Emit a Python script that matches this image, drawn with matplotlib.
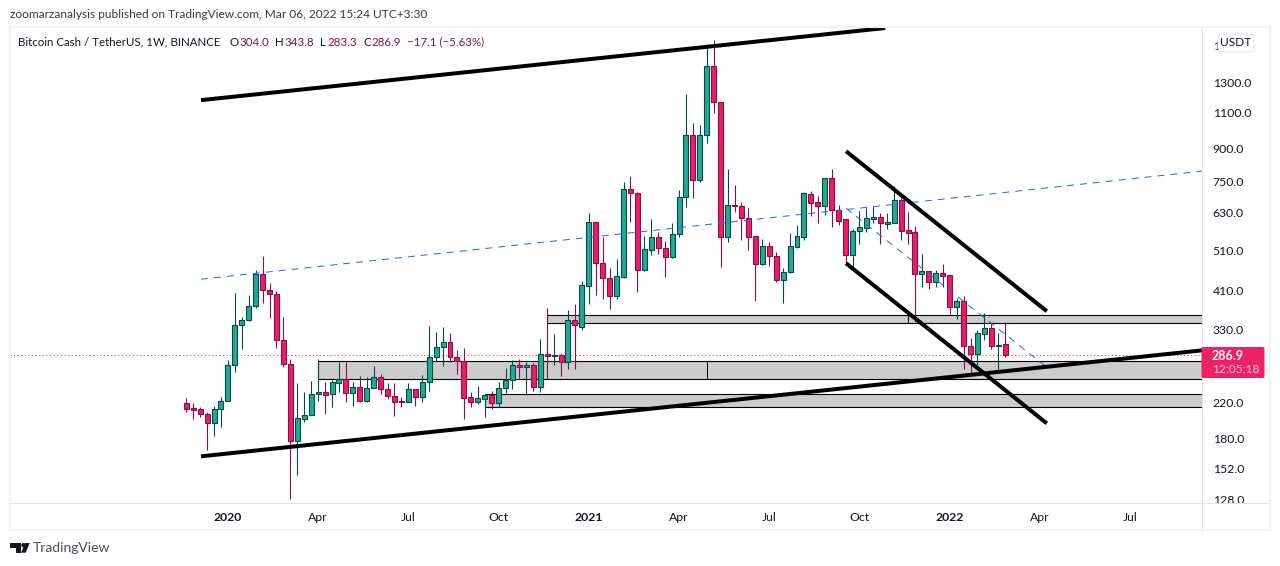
"""BCHUSDT weekly chart with trend channels, redrawn in the TradingView look."""
import matplotlib
matplotlib.use('Agg')
import matplotlib.pyplot as plt
import matplotlib.transforms as mtransforms
import pandas as pd
from matplotlib.patches import FancyBboxPatch, Polygon, Rectangle, Circle

plt.rcParams['font.family'] = ['Lato']

# weekly bars, first one is the week of 2019-11-25
WEEK0 = '2019-11-25'
opens = [219.1, 213.1, 211.9, 206.1, 196.0, 211.9, 221.6, 270.7, 338.2, 347.7,
         375.9, 449.1, 410.8, 401.8, 311.0, 272.2, 177.3, 200.5, 204.9, 230.4,
         232.9, 230.4, 244.9, 250.5, 231.6, 239.5, 221.6, 238.2, 253.2, 236.9,
         227.8, 221.6, 220.3, 236.9, 226.5, 246.3, 283.0, 299.2, 307.6, 283.0,
         276.8, 226.5, 220.3, 224.0, 229.0, 219.1, 238.2, 249.0, 270.7, 267.7,
         270.7, 239.5, 287.7, 284.6, 286.1, 275.2, 347.7, 334.5, 420.1, 599.8,
         477.4, 439.3, 397.4, 441.8, 720.7, 704.8, 459.2, 513.2, 551.7, 519.0,
         493.7, 561.0, 689.3, 973.0, 757.6, 973.0, 1429.0, 1169.0, 551.7, 659.2,
         655.6, 613.1, 554.8, 474.7, 524.8, 496.4, 434.3, 454.2, 521.9, 551.7,
         700.9, 670.3, 655.6, 766.2, 641.0, 609.8, 499.1, 570.4, 580.2, 609.8,
         616.6, 593.2, 596.5, 677.8, 573.6, 567.3, 449.1, 456.7, 429.5, 451.6,
         446.7, 373.8, 386.4, 300.9, 287.7, 321.7, 332.7, 300.9, 304.0]
highs = [225.3, 219.1, 214.3, 208.4, 215.5, 226.5, 278.3, 404.0, 353.7, 399.6,
         459.2, 496.4, 427.1, 408.5, 353.7, 279.9, 244.9, 232.9, 247.6, 279.9,
         246.3, 249.0, 275.2, 275.2, 246.3, 254.6, 253.2, 269.2, 257.4, 244.9,
         244.9, 226.5, 244.9, 236.9, 256.0, 336.4, 325.3, 334.5, 323.5, 294.2,
         297.6, 232.9, 240.9, 229.0, 234.2, 246.3, 266.2, 278.3, 279.9, 275.2,
         273.7, 312.9, 371.7, 321.7, 289.3, 367.6, 380.1, 431.9, 630.4, 603.2,
         551.7, 464.3, 488.2, 749.3, 774.7, 708.7, 554.8, 609.8, 567.3, 539.6,
         596.5, 716.6, 1222.0, 1041.0, 1029.0, 1615.0, 1651.0, 1169.0, 806.0, 736.9,
         670.3, 648.3, 554.8, 545.7, 536.6, 507.6, 464.3, 564.1, 589.9, 708.7,
         712.7, 693.1, 766.2, 806.0, 659.2, 609.8, 577.0, 637.5, 648.3, 655.6,
         630.4, 630.4, 732.7, 685.5, 634.0, 586.6, 502.0, 456.7, 459.2, 474.7,
         446.7, 393.0, 397.4, 314.6, 328.9, 361.6, 343.9, 323.5, 343.8]
lows = [208.4, 200.5, 202.7, 168.7, 182.3, 191.7, 221.6, 260.3, 295.9, 345.8,
        371.7, 382.2, 351.7, 297.6, 267.7, 128.4, 146.8, 197.1, 204.9, 221.6,
        206.1, 214.3, 232.9, 220.3, 215.5, 220.3, 220.3, 238.2, 230.4, 224.0,
        203.8, 214.3, 220.3, 215.5, 220.3, 234.2, 276.8, 269.2, 275.2, 257.4,
        200.5, 214.3, 217.9, 202.7, 211.9, 214.3, 231.6, 236.9, 251.8, 229.0,
        234.2, 232.9, 250.5, 270.7, 254.6, 264.8, 264.8, 328.9, 380.1, 399.6,
        390.8, 369.7, 390.8, 439.3, 599.8, 406.3, 456.7, 499.1, 502.0, 441.8,
        491.0, 551.7, 652.0, 685.5, 749.3, 931.0, 1100.0, 466.9, 536.6, 634.0,
        542.6, 513.2, 386.4, 472.1, 469.5, 429.5, 382.2, 451.6, 519.0, 542.6,
        620.0, 596.5, 623.4, 583.4, 589.9, 477.4, 466.9, 530.7, 567.3, 596.5,
        530.7, 577.0, 596.5, 542.6, 530.7, 343.9, 417.8, 413.2, 417.8, 417.8,
        359.6, 349.8, 264.8, 258.9, 270.7, 311.0, 295.9, 258.9, 283.3]
closes = [211.9, 210.7, 206.1, 196.0, 211.9, 221.6, 270.7, 338.2, 347.7, 375.9,
          449.1, 410.8, 401.8, 311.0, 272.2, 177.3, 201.5, 204.9, 230.4, 232.9,
          229.0, 246.3, 250.5, 231.6, 239.5, 221.6, 238.2, 253.2, 236.9, 227.8,
          220.3, 220.3, 236.9, 226.5, 246.3, 283.0, 299.2, 307.6, 283.0, 276.8,
          225.3, 220.3, 225.3, 229.0, 219.1, 238.2, 249.0, 270.7, 267.7, 270.7,
          239.5, 287.7, 284.6, 286.1, 275.2, 347.7, 338.2, 422.4, 599.8, 477.4,
          439.3, 397.4, 444.2, 720.7, 704.8, 459.2, 516.2, 551.7, 519.0, 493.7,
          561.0, 689.3, 973.0, 757.6, 973.0, 1429.0, 1169.0, 551.7, 659.2, 655.6,
          613.1, 551.7, 474.7, 524.8, 496.4, 434.3, 454.2, 524.8, 554.8, 704.8,
          666.6, 655.6, 766.2, 641.0, 603.2, 499.1, 570.4, 583.4, 613.1, 616.6,
          596.5, 599.8, 677.8, 570.4, 564.1, 449.1, 456.7, 429.5, 451.6, 444.2,
          373.8, 386.4, 300.9, 287.7, 323.5, 332.7, 300.9, 302.5, 286.9]

# drawings: bar index / price pairs
upper_rail_x, upper_rail_y = [2.12, 100.7], [1182, 1765]
lower_rail_x, lower_rail_y = [2.12, 146.4], [163.2, 294.2]
channel_top_x, channel_top_y = [95.06, 124.0], [890, 365.6]
channel_bot_x, channel_bot_y = [95.06, 124.0], [477.4, 196.0]
mid_dash_x, mid_dash_y = [2.12, 146.4], [436.9, 796.6]
fall_dash_x, fall_dash_y = [95.06, 124.0], [648.3, 267.7]

zone_starts = [52.0, 19.0, 43.1]
zone_tops = [357.6, 276.8, 231.2]
zone_bottoms = [342.9, 251.4, 214.7]
zone_splits = [104.0, 75.0, None]

price_ticks = [128, 152, 180, 220, 330, 410, 510, 630, 750, 900, 1100, 1300, 1600]
date_ticks = ['2020-01-06', '2020-04-06', '2020-07-06', '2020-10-05', '2021-01-04',
              '2021-04-05', '2021-07-05', '2021-10-04', '2022-01-03', '2022-04-04',
              '2022-07-04']
date_labels = ['2020', 'Apr', 'Jul', 'Oct', '2021', 'Apr', 'Jul', 'Oct', '2022', 'Apr', 'Jul']

GREEN, GREEN_DARK = '#26a69a', '#004d40'
RED, RED_DARK = '#e91e63', '#880e4f'
TEXT = '#131722'
W, H = 1280, 566
LEFT, RIGHT, TOP, BOTTOM = 10, 1202.3, 27, 503.3
YMIN, YMAX = 125.7, 1775
XMIN, XMAX = -25.4, 146.4
PX = 0.72  # one pixel in points at dpi 100
FS = 8.6
LEGEND_FS = 8.3


def main():
    fig = plt.figure(figsize=(W / 100, H / 100), dpi=100)
    ax = fig.add_axes([LEFT / W, 1 - BOTTOM / H, (RIGHT - LEFT) / W, (BOTTOM - TOP) / H])
    ax.set_yscale('log')
    ax.set_xlim(XMIN, XMAX)
    ax.set_ylim(YMIN, YMAX)
    ax.minorticks_off()
    ax.set_yticks([])
    for s in ax.spines.values():
        s.set_visible(False)

    # zones sit under the candles
    for start, top, bottom, split in zip(zone_starts, zone_tops, zone_bottoms, zone_splits):
        ax.add_patch(Rectangle((start, bottom), XMAX + 5 - start, top - bottom, facecolor='#cccccc',
                               edgecolor='black', linewidth=1.1 * PX, zorder=1))
        if split is not None:
            ax.vlines(split, bottom, top, color='black', linewidth=PX, zorder=1.5)

    ax.axhline(closes[-1], color=RED, linewidth=PX, linestyle=(0, (1, 2.6)), zorder=1.8)

    xs = list(range(len(opens)))
    up = [c >= o for o, c in zip(opens, closes)]
    edge = [GREEN_DARK if u else RED_DARK for u in up]
    fill = [GREEN if u else RED for u in up]
    ax.vlines(xs, lows, highs, colors=edge, linewidth=1.1 * PX, zorder=2)
    bottoms = [min(o, c) for o, c in zip(opens, closes)]
    heights = [abs(c - o) for o, c in zip(opens, closes)]
    ax.bar(xs, heights, bottom=bottoms, width=0.72, color=fill, edgecolor=edge,
           linewidth=1.1 * PX, zorder=3)

    for lx, ly in [(upper_rail_x, upper_rail_y), (lower_rail_x, lower_rail_y),
                   (channel_top_x, channel_top_y), (channel_bot_x, channel_bot_y)]:
        ax.plot(lx, ly, color='black', linewidth=4 * PX, solid_capstyle='butt', zorder=5)
    for lx, ly in [(mid_dash_x, mid_dash_y), (fall_dash_x, fall_dash_y)]:
        ax.plot(lx, ly, color='#2962ff', linewidth=PX, linestyle=(0, (7, 6)), zorder=4)

    start = pd.Timestamp(WEEK0)
    tick_x = [(pd.Timestamp(d) - start).days / 7 for d in date_ticks]
    ax.set_xticks(tick_x, date_labels)
    ax.tick_params(axis='x', length=0, pad=6.5, labelsize=FS + 0.2, labelcolor=TEXT)
    for lab in ax.get_xticklabels():
        if lab.get_text().startswith('20'):
            lab.set_fontweight('bold')

    # price scale on its own axes, so the cut 128.0 label gets clipped at the border
    scale = fig.add_axes([RIGHT / W, 1 - BOTTOM / H, (1270 - RIGHT) / W, (BOTTOM - TOP) / H])
    scale.set_yscale('log')
    scale.set_xlim(0, 1)
    scale.set_ylim(YMIN, YMAX)
    scale.axis('off')
    nudged = mtransforms.offset_copy(scale.transData, fig=fig, y=-0.4, units='points')
    for p in price_ticks:
        scale.text(10.5 / 67.7, p, f'{p:.1f}', fontsize=FS + 0.2, color=TEXT, ha='left',
                   va='center', clip_on=True, transform=nudged)

    # chart furniture, in screen pixels
    ui = fig.add_axes([0, 0, 1, 1], facecolor='none')
    ui.set_xlim(0, W)
    ui.set_ylim(H, 0)
    ui.axis('off')
    ui.add_patch(Rectangle((LEFT, TOP - 0.5), 1270 - LEFT, 530 - TOP + 0.5, fill=False,
                           edgecolor='#f0f3fa', linewidth=1.5))
    ui.plot([RIGHT, RIGHT], [TOP, 530], color='#e0e3eb', linewidth=PX)
    ui.plot([LEFT, 1270], [BOTTOM, BOTTOM], color='#e0e3eb', linewidth=PX)

    ui.text(10, 14, 'zoomarzanalysis published on TradingView.com, Mar 06, 2022 15:24 UTC+3:30',
            fontsize=FS, color='#3a3a3a', va='center')
    ui.text(18, 42, 'Bitcoin Cash / TetherUS, 1W, BINANCE', fontsize=LEGEND_FS, color=TEXT, va='center')
    for x, s, c in [(230, 'O', TEXT), (239, f'{opens[-1]:.1f}', RED_DARK),
                    (275.5, 'H', TEXT), (284.5, f'{highs[-1]:.1f}', RED_DARK),
                    (320, 'L', TEXT), (327, f'{lows[-1]:.1f}', RED_DARK),
                    (363, 'C', TEXT), (371, f'{closes[-1]:.1f}', RED_DARK),
                    (407, '\u221217.1 (\u22125.63%)', RED_DARK)]:
        ui.text(x, 42, s, fontsize=LEGEND_FS, color=c, va='center')

    ui.add_patch(FancyBboxPatch((1220, 36), 32, 14, boxstyle='round,pad=2,rounding_size=4',
                                facecolor='white', edgecolor='#e0e3eb', linewidth=PX, zorder=6))
    ui.text(1236, 43, 'USDT', fontsize=FS, color=TEXT, ha='center', va='center', zorder=7)

    ui.add_patch(FancyBboxPatch((1202.5, 348), 61, 29, boxstyle='round,pad=1,rounding_size=2',
                                facecolor='#ec2265', edgecolor='none', zorder=6))
    ui.add_patch(Rectangle((1202, 347), 4, 31, facecolor='#ec2265', edgecolor='none', zorder=6))
    ui.text(1212, 355.5, f'{closes[-1]:.1f}', fontsize=9.0, fontweight='bold', color='white',
            va='center', zorder=7)
    ui.text(1212, 369.5, '12:05:18', fontsize=8.6, color='#fbc6d8', va='center', zorder=7)

    # TradingView mark
    ui.add_patch(Polygon([(10, 543), (20.5, 543), (20.5, 552.7), (15.5, 552.7), (15.5, 547.5), (10, 547.5)],
                         facecolor='#131722', edgecolor='none'))
    ui.add_patch(Circle((23.5, 545.2), 2.2, facecolor='#131722', edgecolor='none'))
    ui.add_patch(Polygon([(25.3, 543), (29.7, 543), (25.7, 552.7), (21, 552.7)],
                         facecolor='#131722', edgecolor='none'))
    ui.text(33, 548, 'TradingView', fontsize=10, color='#4a4e59', va='center')

    fig.savefig('out.png', dpi=100)


if __name__ == '__main__':
    main()
